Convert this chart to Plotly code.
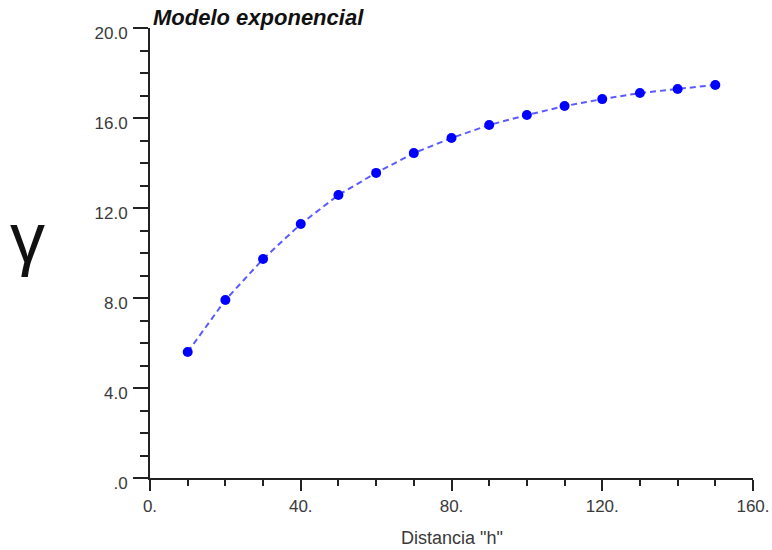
import plotly.graph_objects as go

distance_h = [10, 20, 30, 40, 50, 60, 70, 80, 90, 100, 110, 120, 130, 140, 150]
gamma_vals = [5.60, 7.91, 9.73, 11.29, 12.58, 13.56, 14.44, 15.11, 15.69, 16.13, 16.53, 16.84, 17.11, 17.29, 17.47]

x_tickvals = [0, 40, 80, 120, 160]
x_ticktext = ["0.", "40.", "80.", "120.", "160."]
y_tickvals = [0, 4, 8, 12, 16, 20]
y_ticktext = [".0", "4.0", "8.0", "12.0", "16.0", "20.0"]

fig = go.Figure()
fig.add_trace(go.Scatter(
    x=distance_h, y=gamma_vals, mode="lines+markers",
    line=dict(color="#5a5aff", width=2, dash="6px,4px"),
    marker=dict(color="#0000ff", size=10),
    cliponaxis=False, showlegend=False,
))

axis_color = "#222222"
font = dict(family="Liberation Sans, Arial, sans-serif", size=17, color="#3a3a3a")

fig.update_layout(
    width=772, height=550,
    margin=dict(l=150, r=19, t=28, b=72, autoexpand=False),
    paper_bgcolor="white", plot_bgcolor="white",
    font=font,
    xaxis=dict(
        range=[0, 160], tickvals=x_tickvals, ticktext=x_ticktext, automargin=False,
        showgrid=False, zeroline=False, showline=True, linecolor=axis_color, linewidth=2,
        ticks="outside", ticklen=11, tickwidth=1.5, tickcolor=axis_color,
        minor=dict(dtick=10, ticks="outside", ticklen=6, tickwidth=1.5, tickcolor=axis_color),
        ticklabelstandoff=1,
    ),
    yaxis=dict(
        range=[0, 20], tickvals=y_tickvals, ticktext=y_ticktext, automargin=False,
        showgrid=False, zeroline=False, showline=True, linecolor=axis_color, linewidth=2,
        ticks="outside", ticklen=15, tickwidth=1.5, tickcolor=axis_color,
        minor=dict(dtick=1, ticks="outside", ticklen=8, tickwidth=1.5, tickcolor=axis_color),
        ticklabelshift=5, ticklabelstandoff=2,
    ),
    annotations=[
        dict(text="<b><i>Modelo exponencial</i></b>", xref="paper", yref="paper",
             x=0, y=1, xanchor="left", yanchor="middle", yshift=11, xshift=1,
             showarrow=False, font=dict(family="Liberation Sans, Arial, sans-serif", size=22, color="#111111")),
        dict(text="γ", xref="paper", yref="paper", x=0, y=0.5, xanchor="center", yanchor="middle",
             xshift=-123, yshift=15, showarrow=False,
             font=dict(family="Liberation Sans, Arial, sans-serif", size=70, color="#111111")),
        dict(text='Distancia "h"', xref="paper", yref="paper", x=0.5, y=0, xanchor="center",
             yanchor="middle", yshift=-60, showarrow=False,
             font=dict(family="Liberation Sans, Arial, sans-serif", size=18, color="#3a3a3a")),
    ],
)

fig.write_html("out.html")
